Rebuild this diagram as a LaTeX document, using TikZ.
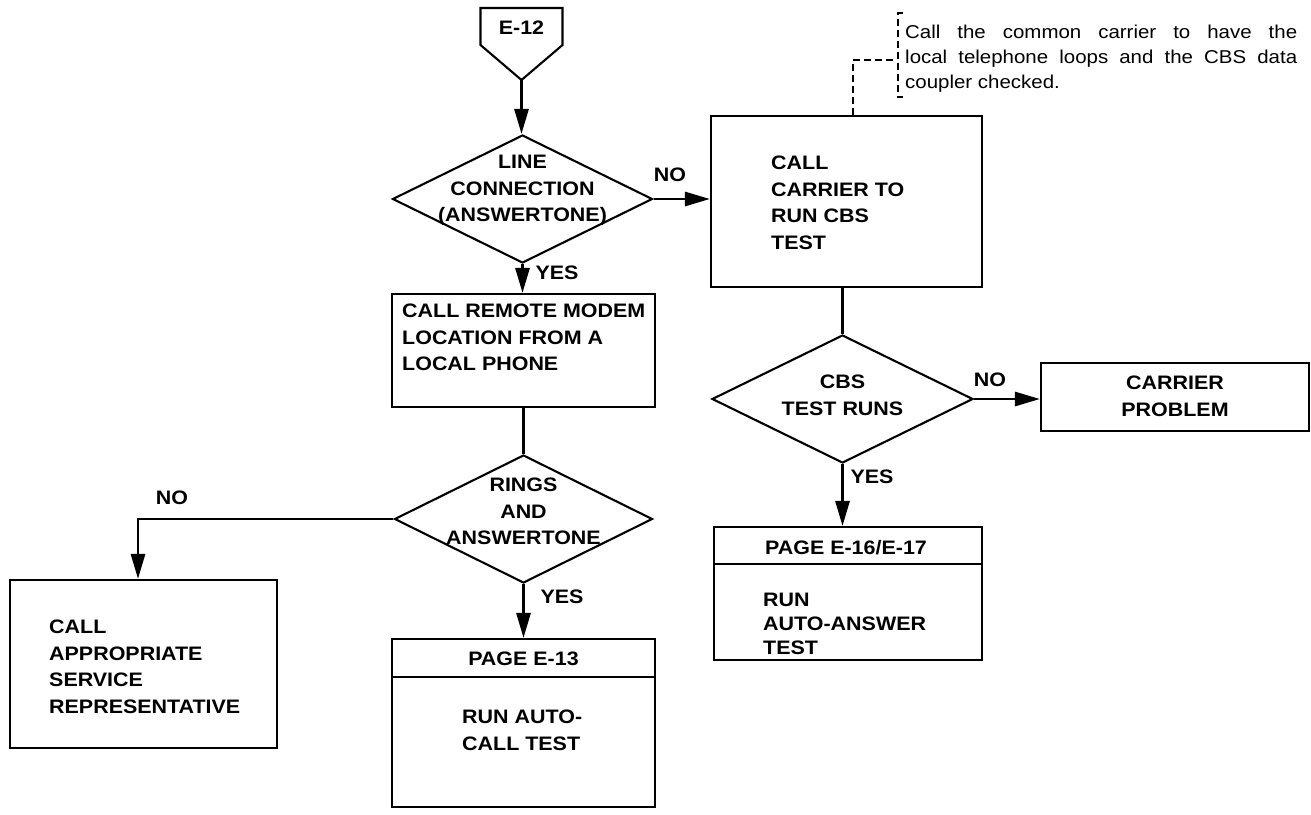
\documentclass[tikz,border=0pt]{standalone}
\usepackage{fontspec}
\newfontfamily\hv[FakeStretch=1.1]{Liberation Sans}
\usetikzlibrary{arrows.meta,shapes.geometric}
\tikzset{
  boxline/.style={draw=black, line width=2.1pt},
  rbox/.style={boxline, rectangle, inner sep=0pt},
  dia/.style={boxline, diamond, inner sep=0pt},
  txt/.style={font={\hv\bfseries\fontsize{19.5}{26.5}\selectfont}, inner sep=0pt, align=left},
  ctxt/.style={txt, align=center},
  lbl/.style={font={\hv\bfseries\fontsize{19.5}{26.5}\selectfont}, inner sep=0pt},
  conn/.style={line width=2.8pt},
  arr/.style={conn, -{Triangle[length=25pt,width=14pt]}},
  notedash/.style={line width=1.9pt, dash pattern=on 7pt off 4pt},
  notetxt/.style={font={\hv\fontsize{18.6}{25}\selectfont}, inner sep=0pt, align=left},
}
\begin{document}
\begin{tikzpicture}[x=1pt,y=-1pt]
\useasboundingbox (0,0) rectangle (1311,814);
% start connector
\draw[boxline] (480.5,8) -- (562.5,8) -- (562.5,45) -- (521.5,80) -- (480.5,45) -- cycle;
\node[lbl] (e12) at (521.5,28) {E-12};
\coordinate (e12tip) at (521.5,80);
% middle column
\node[dia, minimum width=260pt, minimum height=128pt] (d1) at (522.5,199) {};
\node[ctxt, anchor=north] (d1t) at (522.5,155) {LINE\\CONNECTION\\(ANSWERTONE)};
\node[rbox, minimum width=263pt, minimum height=113pt] (b1) at (523.5,350.5) {};
\node[txt, anchor=north west] (b1t) at (402,304) {CALL REMOTE MODEM\\LOCATION FROM A\\LOCAL PHONE};
\node[dia, minimum width=258pt, minimum height=128pt] (d2) at (523.5,519) {};
\node[ctxt, anchor=north] (d2t) at (523.5,478) {RINGS\\AND\\ANSWERTONE};
\node[rbox, minimum width=263pt, minimum height=38pt] (p13h) at (523.5,658) {};
\node[lbl] (p13ht) at (523.5,659) {PAGE E-13};
\node[rbox, minimum width=263pt, minimum height=130pt] (p13b) at (523.5,742) {};
\node[txt, anchor=north west] (p13t) at (462,710) {RUN AUTO-\\CALL TEST};
% left box
\node[rbox, minimum width=267pt, minimum height=168pt] (b3) at (143.5,664) {};
\node[txt, anchor=north west] (b3t) at (49,620) {CALL\\APPROPRIATE\\SERVICE\\REPRESENTATIVE};
% right column
\node[rbox, minimum width=271pt, minimum height=171pt] (c1) at (846.5,201.5) {};
\node[txt, anchor=north west] (c1t) at (771,156) {CALL\\CARRIER TO\\RUN CBS\\TEST};
\node[dia, minimum width=261pt, minimum height=128pt] (d3) at (842.5,399) {};
\node[ctxt, anchor=north] (d3t) at (842.5,375) {CBS\\TEST RUNS};
\node[rbox, minimum width=268pt, minimum height=68pt] (cp) at (1175,397) {};
\node[ctxt, anchor=north] (cpt) at (1175,376) {CARRIER\\PROBLEM};
\node[rbox, minimum width=268pt, minimum height=37pt] (p16h) at (848,545.5) {};
\node[lbl] (p16ht) at (846,548) {PAGE E-16/E-17};
\node[rbox, minimum width=268pt, minimum height=96pt] (p16b) at (848,612) {};
\node[txt, anchor=north west, font={\hv\bfseries\fontsize{19.5}{24}\selectfont}] (p16t) at (763,593) {RUN\\AUTO-ANSWER\\TEST};
% labels
\node[lbl] (no1) at (670,175) {NO};
\node[lbl] (yes1) at (557,273) {YES};
\node[lbl] (no2) at (172,498) {NO};
\node[lbl] (yes2) at (562,597) {YES};
\node[lbl] (no3) at (990,380) {NO};
\node[lbl] (yes3) at (872,477) {YES};
% connectors
\draw[arr] (e12tip) -- (e12tip |- d1.north);
\draw[arr] (d1.east) -- (d1.east -| c1.west);
\draw[arr] (d1.south) -- (d1.south |- b1.north);
\draw[conn] (b1.south) -- (d2.north);
\draw[arr] (d2.west) -| ([xshift=-5.5pt]b3.north);
\draw[arr] (d2.south) -- (p13h.north);
\draw[conn] (c1.south -| d3.north) -- (d3.north);
\draw[arr] (d3.east) -- (d3.east -| cp.west);
\draw[arr] (d3.south) -- (d3.south |- p16h.north);
% annotation
\coordinate (nb) at ([xshift=6.5pt]c1.north);
\coordinate (nc) at (853,60);
\coordinate (nd) at (897,60);
\draw[notedash] (nb) -- (nc) -- (nd);
\draw[notedash] (903,13) -- (898,13) -- (898,97) -- (903,97);
\node[notetxt, anchor=north west] (note) at (905,24.5)
  {\makebox[392pt][s]{Call the common carrier to have the}\\
   \makebox[392pt][s]{local telephone loops and the CBS data}\\
   coupler checked.};
\end{tikzpicture}
\end{document}
